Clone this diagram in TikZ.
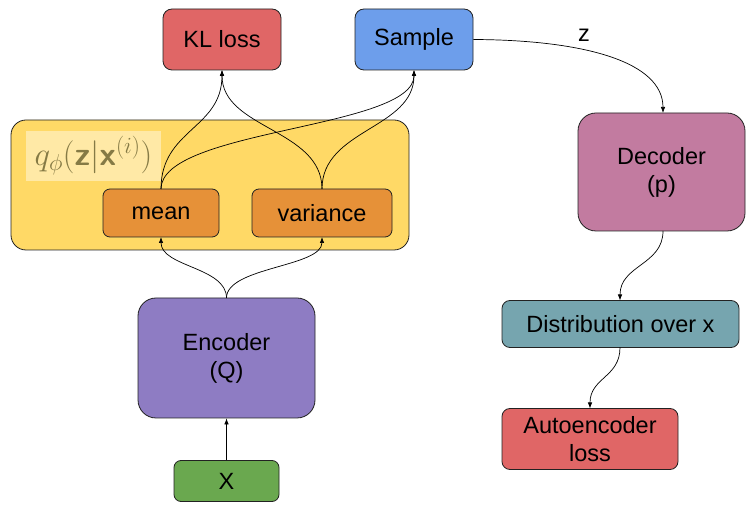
\documentclass[tikz,border=0pt]{standalone}
\usepackage{fix-cm}
\usepackage{fontspec}
\setmainfont{Liberation Sans}
\usetikzlibrary{arrows.meta}
\definecolor{klred}{HTML}{E06666}
\definecolor{sblue}{HTML}{6D9EEB}
\definecolor{qyellow}{HTML}{FFD966}
\definecolor{qlight}{HTML}{FFE9A6}
\definecolor{qtext}{HTML}{857A45}
\definecolor{morange}{HTML}{E69138}
\definecolor{epurple}{HTML}{8E7CC3}
\definecolor{xgreen}{HTML}{6AA84F}
\definecolor{dpink}{HTML}{C27BA0}
\definecolor{dteal}{HTML}{76A5AF}
\definecolor{edge}{HTML}{222222}
\begin{document}
\begin{tikzpicture}[x=1pt,y=-1pt,
  box/.style={draw=edge,line width=0.8pt,rounded corners=9pt,inner sep=0pt,align=center,
    font=\fontsize{23.5}{28}\selectfont},
  conn/.style={draw=black,line width=0.7pt,-{Latex[length=6pt,width=4.5pt]}}]
\useasboundingbox (0,0) rectangle (756,510);
% yellow container
\node[draw=edge,line width=0.8pt,fill=qyellow,rounded corners=15pt,minimum width=398pt,minimum height=130pt,inner sep=0pt] (qbox) at (210,185) {};
\node[fill=qlight,minimum width=135pt,minimum height=50pt,inner sep=0pt,text=qtext,font=\fontsize{33}{38}\selectfont] (qlabel) at (93.5,156)
  {$q_\phi(\textsf{\bfseries z}|\textsf{\bfseries x}^{(i)})$};
% nodes
\node[box,fill=klred,minimum width=118pt,minimum height=61pt] (kl) at (222,39.5) {KL loss};
\node[box,fill=sblue,minimum width=118pt,minimum height=61pt] (sample) at (414,39.5) {Sample};
\node[box,fill=morange,minimum width=116pt,minimum height=48pt,rounded corners=7pt] (mean) at (161,213) {mean};
\node[box,fill=morange,minimum width=140pt,minimum height=48pt,rounded corners=7pt] (var) at (322,213) {variance};
\node[box,fill=epurple,minimum width=177pt,minimum height=120pt,rounded corners=18pt] (enc) at (226.5,358) {Encoder\\(Q)};
\node[box,fill=xgreen,minimum width=105pt,minimum height=41pt,rounded corners=7pt] (x) at (226.5,481) {X};
\node[box,fill=dpink,minimum width=167pt,minimum height=118pt,rounded corners=18pt] (dec) at (661.5,172) {Decoder\\(p)};
\node[box,fill=dteal,minimum width=237pt,minimum height=47pt,rounded corners=8pt] (dist) at (620.5,324) {Distribution over x};
\node[box,fill=klred,minimum width=176pt,minimum height=61pt,rounded corners=8pt] (ae) at (590,439) {Autoencoder\\loss};
\node[font=\fontsize{23.5}{28}\selectfont] (zlab) at (584,35) {z};
% coordinates
\coordinate (encT) at (226.5,298);
\coordinate (meanB) at (161,237);
\coordinate (varB) at (322,237);
\coordinate (meanT) at (161,189);
\coordinate (varT) at (322,189);
\coordinate (klB) at (222,70);
\coordinate (sB) at (414,70);
% connectors
\draw[conn] (x.north) -- (enc.south);
\draw[conn] (encT) .. controls (226.5,267) and (161,267) .. (meanB);
\draw[conn] (encT) .. controls (226.5,267) and (322,267) .. (varB);
\draw[conn] (meanT) .. controls (161,129) and (222,129) .. (klB);
\draw[conn] (meanT) .. controls (161,129) and (414,129) .. (sB);
\draw[conn] (varT) .. controls (322,129) and (222,129) .. (klB);
\draw[conn] (varT) .. controls (322,129) and (414,129) .. (sB);
\draw[conn] (sample.east) .. controls (585,40) and (663,62) .. (663,113);
\draw[conn] (663,231) .. controls (663,265) and (620,265) .. (620,300.5);
\draw[conn] (620,347.5) .. controls (620,377.5) and (590,377.5) .. (590,408.5);
\end{tikzpicture}
\end{document}
